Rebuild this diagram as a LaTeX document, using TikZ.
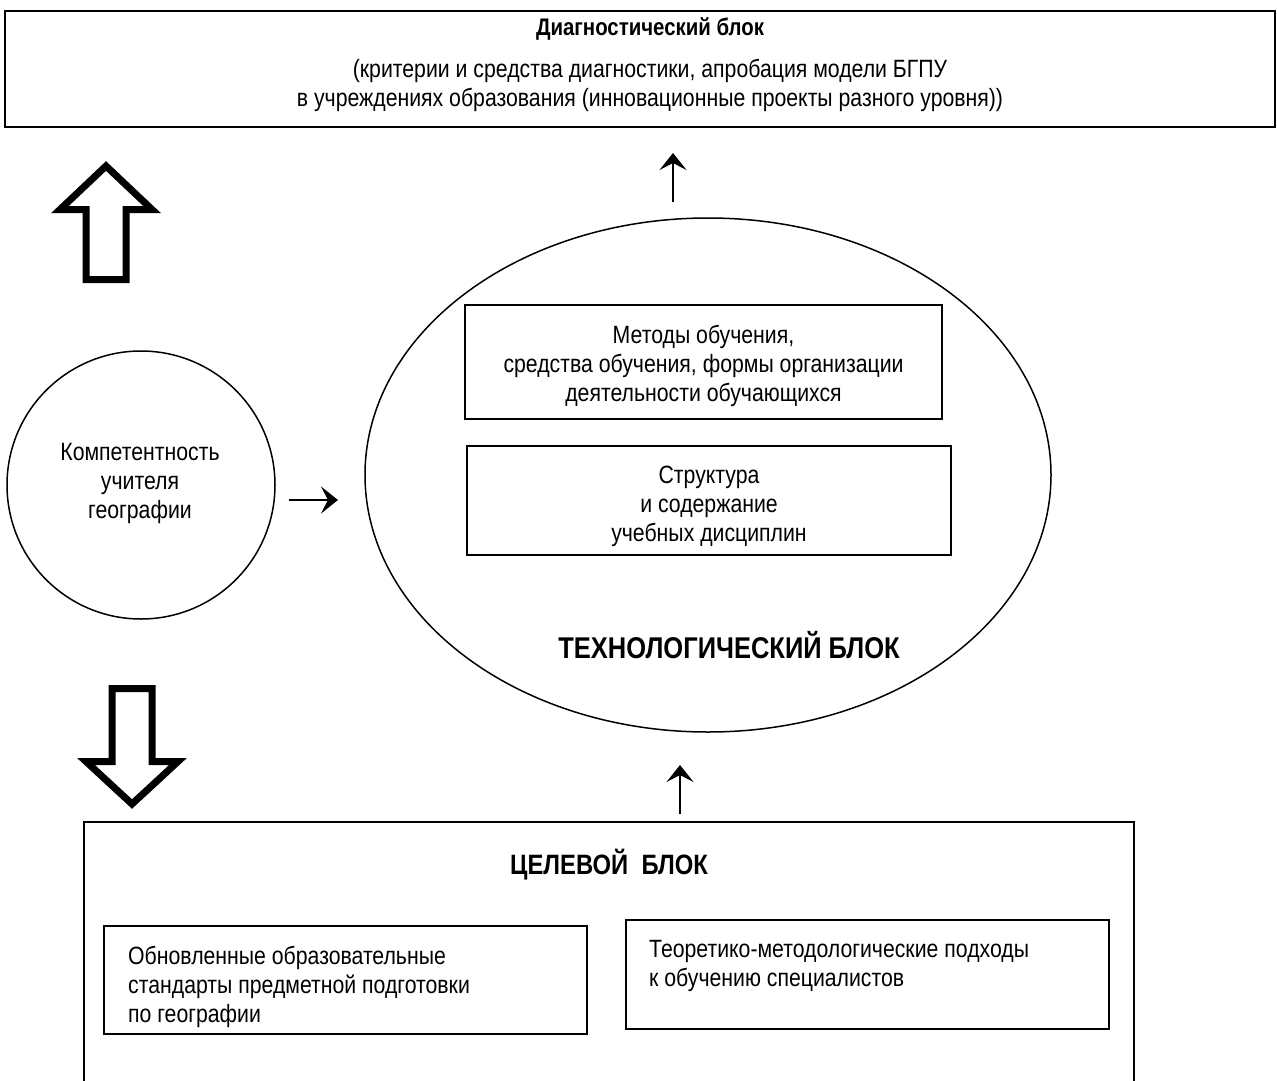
\documentclass[tikz,border=0pt]{standalone}
\usepackage{fontspec}
\setmainfont[FakeStretch=0.85]{Liberation Sans}
\usetikzlibrary{arrows.meta,shapes.geometric}
\tikzset{
  txt/.style={font=\fontsize{25}{29}\selectfont, align=center, inner sep=0pt},
  ltxt/.style={font=\fontsize{25}{29}\selectfont, align=left, inner sep=0pt, anchor=west},
  boxnode/.style={draw, line width=2pt, inner sep=0pt},
  thinarrow/.style={line width=2pt, -{Stealth[length=17pt,width=27pt,inset=7pt]}},
  bigarrow/.style={line width=7pt, line join=miter, miter limit=10},
  roundshape/.style={draw, line width=1.5pt, inner sep=0pt}
}
\begin{document}
\begin{tikzpicture}[x=1pt,y=-1pt]
\useasboundingbox (0,0) rectangle (1277,1081);
\fill[white] (0,0) rectangle (1277,1081);

% top diagnostic block
\node[boxnode, minimum width=1270pt, minimum height=115pt] (diag) at (640,69) {};
\node[txt, font=\fontsize{24}{28}\selectfont\bfseries] (diagt) at (650,29) {Диагностический блок};
\node[txt] (diagd) at (650,85) {(критерии и средства диагностики, апробация модели БГПУ\\в учреждениях образования (инновационные проекты разного уровня))};

% technological ellipse
\node[roundshape, ellipse, minimum width=686pt, minimum height=514pt] (tech) at (708,475) {};
\node[boxnode, minimum width=477pt, minimum height=114pt] (m1) at (703.5,362) {};
\node[txt] (m1t) at (703.5,365.5) {Методы обучения,\\средства обучения, формы организации\\деятельности обучающихся};
\node[boxnode, minimum width=484pt, minimum height=109pt] (m2) at (709,500.5) {};
\node[txt] (m2t) at (709,506) {Структура\\и содержание\\учебных дисциплин};
\node[txt, font=\fontsize{30}{34}\selectfont\bfseries] (techt) at (729,645) {ТЕХНОЛОГИЧЕСКИЙ БЛОК};

% competence circle
\node[roundshape, circle, minimum size=268pt] (comp) at (141,485) {};
\node[txt] (compt) at (140,483) {Компетентность\\учителя\\географии};

% goal block
\node[boxnode, minimum width=1050pt, minimum height=290pt] (goal) at (609,967) {};
\node[txt, font=\fontsize{28}{32}\selectfont\bfseries] (goalt) at (609,865) {ЦЕЛЕВОЙ~~БЛОК};
\node[boxnode, minimum width=483pt, minimum height=108pt] (g1) at (345.5,980) {};
\node[ltxt] (g1t) at (128,987) {Обновленные образовательные\\стандарты предметной подготовки\\по географии};
\node[boxnode, minimum width=483pt, minimum height=109pt] (g2) at (867.5,974.5) {};
\node[ltxt] (g2t) at (649,966) {Теоретико-методологические подходы\\к обучению специалистов};

% thin arrows
\coordinate (a1s) at (673,202);
\coordinate (a1e) at (673,153);
\draw[thinarrow] (a1s) -- (a1e);
\coordinate (a2s) at (289,500);
\coordinate (a2e) at (338,500);
\draw[thinarrow] (a2s) -- (a2e);
\coordinate (a3s) at (680,814);
\coordinate (a3e) at (680,765);
\draw[thinarrow] (a3s) -- (a3e);

% big hollow arrows
\draw[bigarrow] (106,166) -- (152,209.5) -- (126,209.5) -- (126,279.5) -- (86,279.5) -- (86,209.5) -- (60,209.5) -- cycle;
\draw[bigarrow] (112,688.5) -- (152,688.5) -- (152,761.5) -- (178,761.5) -- (132,804) -- (86,761.5) -- (112,761.5) -- cycle;
\end{tikzpicture}
\end{document}
